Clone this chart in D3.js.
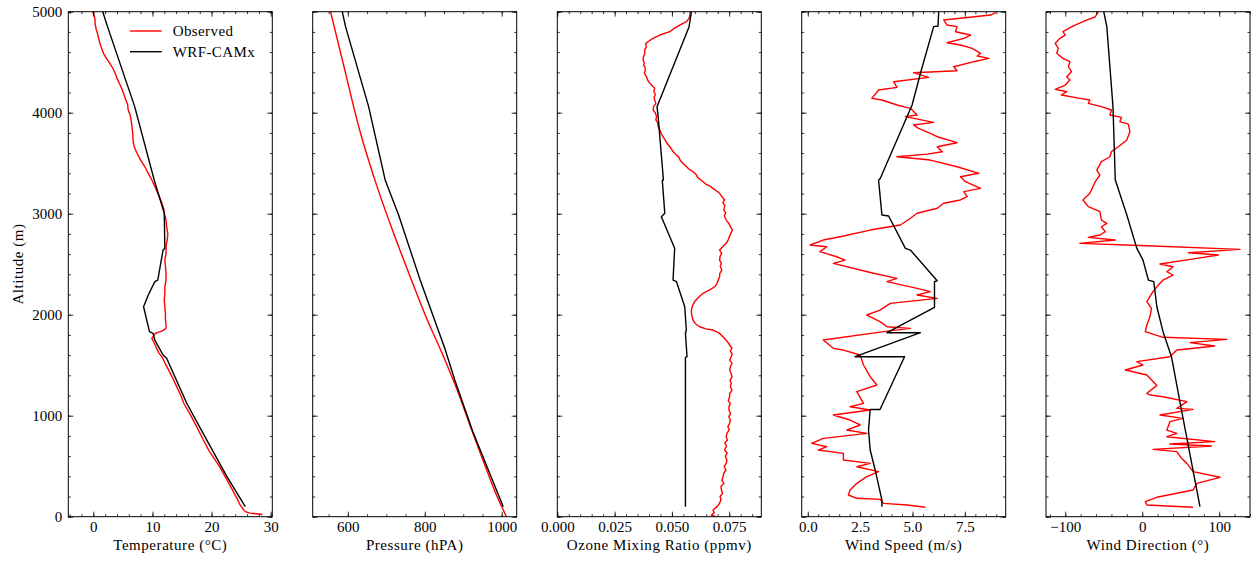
<!DOCTYPE html>
<html>
<head>
<meta charset="utf-8">
<script src="https://cdnjs.cloudflare.com/ajax/libs/d3/7.8.5/d3.min.js"></script>
<style>
  body { margin: 0; background: #fff; }
  text { font-family: "Liberation Serif", "Times New Roman", serif; }
</style>
</head>
<body>
<div id="chart"></div>
<script>
// altitude (m) / value pairs
var tempObs = [[5000,-0.1],[4950,0.2],[4918,0.3],[4880,0.3],[4852,0.4],[4820,0.5],[4786,0.7],[4740,0.9],[4687,1.1],[4640,1.4],[4588,1.7],[4540,2.2],[4489,2.8],[4440,3.3],[4390,3.7],[4340,4.0],[4291,4.4],[4240,4.8],[4192,5.1],[4160,5.3],[4126,5.5],[4080,5.8],[4027,5.9],[3980,6.2],[3928,6.4],[3880,6.5],[3829,6.6],[3780,6.7],[3740,6.7],[3697,6.8],[3650,7.0],[3598,7.4],[3530,8.0],[3465,8.7],[3400,9.3],[3334,9.9],[3270,10.4],[3202,10.9],[3150,11.3],[3103,11.6],[3050,11.9],[3004,12.0],[2940,12.3],[2871,12.4],[2800,12.6],[2740,12.5],[2680,12.3],[2608,12.3],[2540,12.1],[2475,12.2],[2410,12.3],[2343,12.3],[2280,12.1],[2212,12.1],[2150,12.0],[2079,12.1],[2010,12.2],[1948,12.2],[1900,12.3],[1865,12.3],[1845,11.8],[1832,11.3],[1816,10.5],[1790,10.2],[1766,9.9],[1720,10.3],[1667,10.7],[1620,11.1],[1584,11.6],[1500,12.3],[1400,13.2],[1300,14.0],[1200,14.8],[1123,15.3],[1000,16.5],[900,17.4],[759,18.6],[650,19.6],[500,21.3],[396,22.3],[300,23.2],[182,24.3],[120,24.8],[70,25.4],[50,25.7],[35,26.5],[27,28.0],[22,28.6]];
var tempMod = [[5000,1.6],[4852,2.4],[4060,7.0],[3334,10.3],[3004,12.0],[2657,12.1],[2641,11.8],[2343,10.9],[2327,10.4],[2195,9.3],[2079,8.5],[1832,9.5],[1816,10.1],[1749,10.4],[1601,11.8],[1568,12.4],[1123,15.8],[759,19.2],[396,22.6],[99,25.7]];

var presObs = [[5000,555],[4455,590],[3796,633],[3268,676],[2806,719],[2376,762],[1980,803],[1618,845],[1238,886],[858,922],[462,961],[200,988],[17,1010],[0,1012]];
var presMod = [[5000,585.5],[4852,594],[4060,654],[3334,697],[2987,732],[2343,788],[1667,852],[1353,878],[842,925],[99,1004]];

var ozoneObs = [[5000,.0581],[4967,.0578],[4934,.0575],[4901,.0563],[4868,.0534],[4835,.0510],[4802,.0491],[4769,.0447],[4736,.0418],[4710,.0400],[4687,.0386],[4650,.0388],[4620,.0381],[4588,.0382],[4555,.0376],[4522,.0374],[4490,.0380],[4470,.0376],[4455,.0382],[4420,.0384],[4390,.0380],[4356,.0389],[4320,.0395],[4291,.0404],[4265,.0415],[4241,.0425],[4210,.0421],[4180,.0428],[4150,.0422],[4126,.0425],[4090,.0430],[4060,.0420],[4027,.0418],[3995,.0428],[3961,.0433],[3930,.0430],[3900,.0438],[3862,.0440],[3830,.0447],[3800,.0452],[3762,.0461],[3730,.0470],[3700,.0478],[3663,.0491],[3640,.0498],[3610,.0507],[3580,.0520],[3560,.0530],[3530,.0536],[3498,.0549],[3470,.0562],[3440,.0575],[3416,.0592],[3390,.0605],[3360,.0612],[3317,.0636],[3290,.0650],[3270,.0668],[3251,.0679],[3225,.0695],[3202,.0708],[3170,.0718],[3136,.0730],[3110,.0722],[3080,.0731],[3037,.0726],[3010,.0735],[2980,.0729],[2937,.0737],[2905,.0748],[2870,.0756],[2838,.0764],[2810,.0758],[2780,.0752],[2739,.0745],[2710,.0738],[2680,.0725],[2640,.0708],[2610,.0717],[2575,.0710],[2541,.0708],[2509,.0716],[2480,.0711],[2440,.0718],[2410,.0709],[2376,.0708],[2330,.0700],[2300,.0695],[2277,.0687],[2245,.0665],[2212,.0636],[2180,.0620],[2150,.0607],[2129,.0599],[2090,.0590],[2047,.0585],[2000,.0586],[1948,.0592],[1910,.0603],[1881,.0621],[1860,.0648],[1848,.0679],[1820,.0705],[1782,.0723],[1740,.0740],[1700,.0752],[1670,.0762],[1640,.0755],[1610,.0763],[1584,.0759],[1550,.0752],[1520,.0762],[1490,.0756],[1452,.0752],[1420,.0758],[1385,.0762],[1350,.0754],[1320,.0759],[1290,.0755],[1250,.0762],[1220,.0752],[1188,.0752],[1150,.0746],[1120,.0755],[1090,.0749],[1056,.0749],[1020,.0756],[990,.0748],[960,.0755],[924,.0752],[890,.0744],[860,.0750],[825,.0740],[792,.0737],[760,.0742],[730,.0731],[700,.0738],[660,.0730],[630,.0741],[600,.0733],[560,.0740],[528,.0737],[495,.0728],[460,.0736],[430,.0726],[396,.0723],[360,.0718],[330,.0727],[300,.0714],[264,.0716],[230,.0721],[200,.0710],[170,.0714],[133,.0708],[100,.0697],[66,.0679],[40,.0685],[17,.0672],[0,.0690]];
var ozoneMod = [[5000,.0585],[4852,.0575],[4060,.0435],[3961,.0440],[3334,.0463],[3330,.0458],[3004,.0469],[2970,.0454],[2657,.0512],[2343,.0505],[2327,.0520],[2079,.0556],[1848,.0563],[1816,.0559],[1584,.0566],[1578,.0559],[99,.0559]];

var windObs = [[4990,8.97],[4967,8.73],[4918,6.49],[4868,6.65],[4852,7.13],[4802,7.05],[4769,7.77],[4736,7.45],[4693,6.65],[4670,7.29],[4637,7.85],[4588,8.25],[4561,8.09],[4538,8.65],[4505,7.93],[4455,6.97],[4415,7.13],[4396,5.05],[4350,5.77],[4307,4.10],[4251,4.26],[4225,3.38],[4142,3.06],[4126,3.54],[4076,4.26],[4043,4.90],[3977,5.22],[3961,4.66],[3904,6.01],[3878,5.05],[3845,5.29],[3796,5.85],[3762,6.18],[3703,7.13],[3663,6.18],[3614,6.42],[3590,5.70],[3564,4.26],[3531,5.85],[3465,7.13],[3400,8.17],[3366,7.29],[3317,7.53],[3251,8.25],[3218,7.45],[3168,7.61],[3136,7.29],[3103,6.49],[3054,6.18],[3004,5.22],[2955,4.90],[2888,4.42],[2838,2.98],[2772,1.54],[2739,0.74],[2690,0.11],[2673,0.91],[2624,0.58],[2574,1.38],[2541,1.78],[2508,1.22],[2410,3.14],[2360,4.26],[2327,3.78],[2261,5.22],[2228,5.85],[2195,5.22],[2162,6.18],[2112,3.94],[2046,3.45],[1997,2.82],[1931,3.45],[1881,3.78],[1865,4.90],[1832,3.62],[1749,0.74],[1667,1.22],[1650,1.70],[1601,2.50],[1502,2.66],[1386,2.98],[1304,3.30],[1238,2.34],[1122,2.66],[1089,2.02],[1056,2.98],[1007,1.22],[957,2.02],[908,2.50],[858,1.86],[825,2.82],[775,0.74],[726,0.19],[693,0.91],[660,0.50],[627,1.70],[561,1.70],[528,2.98],[495,2.34],[446,3.38],[396,2.82],[330,2.34],[264,2.02],[215,1.94],[182,2.34],[172,3.45],[132,3.62],[116,4.74],[93,5.62]];
var windMod = [[5000,6.25],[4858,6.22],[4852,6.01],[4390,5.38],[4076,4.98],[3349,3.46],[3333,3.38],[2987,3.54],[2977,3.86],[2657,4.66],[2640,4.90],[2336,6.18],[2327,6.05],[2073,6.05],[1822,3.78],[1822,5.38],[1584,2.26],[1584,4.62],[1062,3.45],[1062,2.98],[858,2.90],[660,2.98],[462,3.22],[165,3.54],[99,3.54]];

var dirObs = [[5000,-57],[4950,-61],[4901,-77],[4858,-90],[4802,-103],[4769,-100],[4736,-107],[4687,-113],[4637,-109],[4588,-111],[4538,-103],[4505,-94],[4455,-96],[4406,-92],[4356,-98],[4323,-94],[4274,-100],[4231,-113],[4208,-98],[4175,-105],[4142,-81],[4126,-68],[4093,-70],[4060,-53],[4027,-40],[3977,-42],[3954,-27],[3911,-29],[3887,-18],[3812,-16],[3729,-20],[3663,-31],[3614,-40],[3564,-42],[3515,-53],[3432,-59],[3383,-55],[3317,-61],[3202,-68],[3136,-77],[3070,-70],[3020,-55],[2937,-53],[2905,-46],[2871,-53],[2822,-48],[2789,-55],[2766,-70],[2739,-35],[2706,-81],[2683,6],[2647,127],[2614,60],[2591,99],[2558,71],[2502,23],[2475,40],[2426,32],[2393,40],[2343,27],[2294,21],[2228,14],[2129,6],[2063,12],[1980,10],[1898,6],[1832,4],[1776,27],[1756,110],[1723,62],[1690,94],[1650,45],[1584,36],[1535,-7],[1502,1],[1452,-22],[1403,6],[1300,19],[1222,6],[1205,10],[1188,27],[1139,58],[1073,45],[1063,66],[1007,23],[974,53],[941,36],[858,32],[825,45],[792,32],[743,94],[720,36],[700,90],[667,14],[644,45],[578,51],[528,58],[446,66],[390,101],[330,71],[264,66],[192,19],[149,4],[116,6],[93,66]];
var dirMod = [[5000,-50],[4852,-46],[4060,-38],[3334,-35],[2987,-20],[2657,-7],[2541,1],[2343,8],[2327,15],[2079,19],[1832,27],[1584,38],[1056,51],[99,75]];

var altTicks = [0, 1000, 2000, 3000, 4000, 5000];
var tempTicks = [0, 10, 20, 30];
var presTicks = [600, 800, 1000];
var ozoneTicks = [0, 0.025, 0.05, 0.075];
var windTicks = [0, 2.5, 5, 7.5];
var dirTicks = [-100, 0, 100];
var seriesNames = ["Observed", "WRF-CAMx"];

var W = 1251, H = 562;
var plotTop = 11.7, plotBottom = 516.7, pw = 204;
var svg = d3.select("#chart").append("svg").attr("width", W).attr("height", H);

var y = d3.scaleLinear().domain([0, 5000]).range([plotBottom, plotTop]);

var panels = [
  {left: 68.3, domain: [-4.23, 30.27], ticks: tempTicks, minor: 2, fmt: d3.format("d"), obs: tempObs, mod: tempMod, title: "Temperature (\u00B0C)"},
  {left: 312.7, domain: [508.6, 1039], ticks: presTicks, minor: 50, fmt: d3.format("d"), obs: presObs, mod: presMod, title: "Pressure (hPA)", smooth: true},
  {left: 557.3, domain: [0, 0.089], ticks: ozoneTicks, minor: 0.005, fmt: d3.format(".3f"), obs: ozoneObs, mod: ozoneMod, title: "Ozone Mixing Ratio (ppmv)"},
  {left: 801.7, domain: [-0.29, 9.45], ticks: windTicks, minor: 0.5, fmt: d3.format(".1f"), obs: windObs, mod: windMod, title: "Wind Speed (m/s)"},
  {left: 1046, domain: [-125, 140], ticks: dirTicks, minor: 20, fmt: d3.format("d"), obs: dirObs, mod: dirMod, title: "Wind Direction (\u00B0)"}
];

function minorVals(domain, step) {
  var out = [];
  var start = Math.ceil(domain[0] / step - 1e-9);
  for (var k = start; k * step <= domain[1] + 1e-12; k++) out.push(+(k * step).toFixed(6));
  return out;
}

panels.forEach(function (p, i) {
  var x = d3.scaleLinear().domain(p.domain).range([p.left, p.left + pw]);
  var g = svg.append("g");

  var line = d3.line().x(function (d) { return x(d[1]); }).y(function (d) { return y(d[0]); });
  var obsLine = d3.line().x(function (d) { return x(d[1]); }).y(function (d) { return y(d[0]); })
    .curve(p.smooth ? d3.curveMonotoneY : d3.curveLinear);

  g.append("path").datum(p.obs).attr("d", obsLine)
    .attr("fill", "none").attr("stroke", "#ff0000").attr("stroke-width", 1.4).attr("stroke-linejoin", "round");
  g.append("path").datum(p.mod).attr("d", line)
    .attr("fill", "none").attr("stroke", "#000").attr("stroke-width", 1.4).attr("stroke-linejoin", "round");

  var xMinor = minorVals(p.domain, p.minor);
  var yMinor = minorVals([0, 5000], 200);

  // bottom axis with labels
  g.append("g").attr("transform", "translate(0," + plotBottom + ")")
    .call(d3.axisBottom(x).tickValues(xMinor).tickSize(-2.5).tickFormat(""));
  g.append("g").attr("transform", "translate(0," + plotBottom + ")")
    .call(d3.axisBottom(x).tickValues(p.ticks).tickSize(-5).tickPadding(5).tickFormat(p.fmt));
  // top axis, ticks only
  g.append("g").attr("transform", "translate(0," + plotTop + ")")
    .call(d3.axisTop(x).tickValues(xMinor).tickSize(-2.5).tickFormat(""));
  g.append("g").attr("transform", "translate(0," + plotTop + ")")
    .call(d3.axisTop(x).tickValues(p.ticks).tickSize(-5).tickFormat(""));
  // left / right
  g.append("g").attr("transform", "translate(" + p.left + ",0)")
    .call(d3.axisLeft(y).tickValues(yMinor).tickSize(-2.5).tickFormat(""));
  g.append("g").attr("transform", "translate(" + p.left + ",0)")
    .call(d3.axisLeft(y).tickValues(altTicks).tickSize(-5).tickPadding(6)
      .tickFormat(i === 0 ? d3.format("d") : ""));
  g.append("g").attr("transform", "translate(" + (p.left + pw) + ",0)")
    .call(d3.axisRight(y).tickValues(yMinor).tickSize(-2.5).tickFormat(""));
  g.append("g").attr("transform", "translate(" + (p.left + pw) + ",0)")
    .call(d3.axisRight(y).tickValues(altTicks).tickSize(-5).tickFormat(""));

  g.selectAll(".domain").remove();
  g.selectAll(".tick line").attr("stroke", "#000").attr("stroke-width", 0.8);
  g.selectAll(".tick text").attr("font-size", 15).attr("fill", "#000")
    .attr("font-family", "'Liberation Serif', serif");

  g.append("rect").attr("x", p.left).attr("y", plotTop).attr("width", pw).attr("height", plotBottom - plotTop)
    .attr("fill", "none").attr("stroke", "#000").attr("stroke-width", 1);

  g.append("text").attr("x", p.left + pw / 2).attr("y", 550)
    .attr("text-anchor", "middle").attr("font-size", 15).attr("letter-spacing", 0.55)
    .text(p.title);
});

svg.append("text").attr("transform", "translate(23,264) rotate(-90)")
  .attr("text-anchor", "middle").attr("font-size", 15).attr("letter-spacing", 0.55)
  .text("Altitude (m)");

// legend
var legend = svg.append("g");
seriesNames.forEach(function (name, i) {
  var ly = 31 + i * 20.7;
  legend.append("line").attr("x1", 130).attr("x2", 161.7).attr("y1", ly).attr("y2", ly)
    .attr("stroke", i === 0 ? "#ff0000" : "#000").attr("stroke-width", 1.4);
  legend.append("text").attr("x", 172.7).attr("y", ly).attr("dy", "0.33em")
    .attr("font-size", 15).attr("letter-spacing", 0.4).text(name);
});
</script>
</body>
</html>
